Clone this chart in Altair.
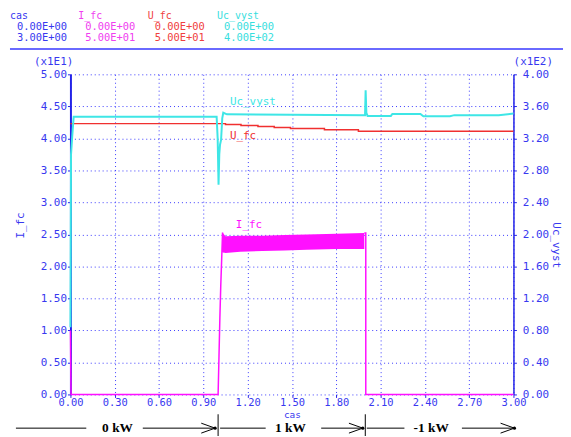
import altair as alt
import pandas as pd

# ---------------- data ----------------
x_ticks = [0.0, 0.3, 0.6, 0.9, 1.2, 1.5, 1.8, 2.1, 2.4, 2.7, 3.0]
left_ticks = [0, 5, 10, 15, 20, 25, 30, 35, 40, 45, 50]
right_ticks = [0, 40, 80, 120, 160, 200, 240, 280, 320, 360, 400]

# U_fc (left axis, stepped)
ufc_t = [0.0, 1.05, 1.155, 1.27, 1.38, 1.49, 1.72, 1.95, 3.0]
ufc_v = [42.3, 42.15, 42.0, 41.85, 41.7, 41.55, 41.35, 41.1, 41.1]

# Uc_vyst (right axis)
uc_t = [0.0, 0.004, 0.012, 0.022, 0.99, 0.997, 1.003, 1.008, 1.013, 1.02, 1.028, 1.035, 1.06,
        1.995, 1.999, 2.004, 2.012, 2.17, 2.18, 2.37, 2.39, 2.57, 2.6, 2.9, 3.0]
uc_v = [84, 300, 322, 347, 347, 320, 262, 300, 312, 318, 345, 352, 350,
        349, 380, 352, 348, 348, 350.5, 350.5, 347.6, 347.6, 349, 349, 351]

# I_fc edges (left axis)
ifc_seg = ["a", "a", "a", "a", "a", "a", "a", "a", "a", "b", "b", "b", "b"]
ifc_t = [0.0, 0.004, 1.0, 1.006, 1.012, 1.018, 1.024, 1.03, 1.035, 1.99, 2.0, 2.0, 3.0]
ifc_v = [10, 0, 0, 6, 12, 17, 21, 25.3, 22.2, 25.2, 25.2, 0, 0]

# I_fc ripple band
band_t = [1.03, 1.05, 1.15, 1.3, 1.45, 1.6, 1.8, 1.99]
band_hi = [25.3, 24.7, 24.8, 24.8, 24.9, 25.0, 25.1, 25.2]
band_lo = [22.2, 22.1, 22.3, 22.4, 22.5, 22.6, 22.7, 22.7]

head_names = ["cas", "I_fc", "U_fc", "Uc_vyst"]
head_min = ["0.00E+00", "0.00E+00", "0.00E+00", "0.00E+00"]
head_max = ["3.00E+00", "5.00E+01", "5.00E+01", "4.00E+02"]

phase_labels = ["0 kW", "1 kW", "-1 kW"]

# ---------------- styling ----------------
W, H = 447, 323
FONT = "DejaVu Sans Mono"
BLUE = "#3838f0"
AXIS = "#2323e8"
GRID = "#3a3aff"
CYAN = "#3ee6e6"
MAG = "#ff10ff"
RED = "#f03030"
head_colors = [BLUE, "#f040f0", "#f04040", "#38dede"]
head_x = [10, 79, 149, 219]
ox, oy = 71, 73  # plot origin on page

x_axis = alt.Axis(values=x_ticks, format=".2f", grid=True, gridDash=[1, 3], gridColor=GRID,
                  gridWidth=1, domain=False, ticks=True, tickSize=3, tickColor=AXIS,
                  labelPadding=0, labelFlush=False, labelOverlap=False,
                  labelColor=BLUE, labelFont=FONT, labelFontSize=10.5,
                  title="cas", titleColor=BLUE, titleFont=FONT, titleFontSize=9.5,
                  titleFontWeight="normal", titleY=23, titleBaseline="alphabetic")
X = alt.X("t:Q", scale=alt.Scale(domain=[0, 3], nice=False, zero=False), axis=x_axis)

left_axis = alt.Axis(values=left_ticks, labelExpr="format(datum.value/10, '.2f')",
                     grid=True, gridDash=[1, 3], gridColor=GRID, gridWidth=1,
                     domain=True, domainColor=AXIS, domainWidth=2,
                     ticks=True, tickSize=3, tickColor=AXIS, labelPadding=1,
                     labelColor=BLUE, labelFont=FONT, labelFontSize=11,
                     title="I_fc", titleColor=BLUE, titleFont=FONT, titleFontSize=11,
                     titleFontWeight="normal", titleX=-50, titleY=152, titleAngle=-90,
                     titleAlign="center", titleBaseline="middle")
YL = lambda f: alt.Y(f, scale=alt.Scale(domain=[0, 50], nice=False), axis=left_axis)

right_axis = alt.Axis(values=right_ticks, labelExpr="format(datum.value/100, '.2f')",
                      orient="right", grid=False, domain=True, domainColor=AXIS, domainWidth=1.5,
                      ticks=True, tickSize=3, tickColor=AXIS, labelPadding=6,
                      labelColor=BLUE, labelFont=FONT, labelFontSize=11,
                      title="Uc_vyst", titleColor=BLUE, titleFont=FONT, titleFontSize=11,
                      titleFontWeight="normal", titleX=42, titleY=172, titleAngle=90,
                      titleAlign="center", titleBaseline="middle")

ufc_df = pd.DataFrame({"t": ufc_t, "v": ufc_v})
uc_df = pd.DataFrame({"t": uc_t, "v": uc_v})
ifc_df = pd.DataFrame({"t": ifc_t, "v": ifc_v, "seg": ifc_seg, "o": list(range(len(ifc_t)))})
band_df = pd.DataFrame({"t": band_t, "hi": band_hi, "lo": band_lo})

ufc_line = alt.Chart(ufc_df).mark_line(color=RED, strokeWidth=1.5, interpolate="step-after").encode(
    x=X, y=YL("v:Q"))
band = alt.Chart(band_df).mark_area(color=MAG, opacity=1).encode(
    x=X, y=YL("hi:Q"), y2="lo:Q")
ifc_line = alt.Chart(ifc_df).mark_line(color=MAG, strokeWidth=1.5).encode(
    x=X, y=YL("v:Q"), detail="seg:N", order="o:Q")

lab_df = pd.DataFrame({"t": [1.08, 1.08, 1.12], "v": [45.6, 40.4, 26.4],
                       "name": ["Uc_vyst", "U_fc", "I_fc"], "c": [CYAN, RED, MAG]})
in_labels = alt.Chart(lab_df).mark_text(align="left", baseline="middle", font=FONT, fontSize=11).encode(
    x=X, y=YL("v:Q"), text="name:N", color=alt.Color("c:N", scale=None))

left = alt.layer(ufc_line, band, ifc_line, in_labels)

right = alt.Chart(uc_df).mark_line(color=CYAN, strokeWidth=2).encode(
    x=X, y=alt.Y("v:Q", scale=alt.Scale(domain=[0, 400], nice=False), axis=right_axis))

one = alt.Data(values=[{"k": 1}])


def txt(s, px, py, color, size=11, align="left", font=FONT, weight="normal"):
    return alt.Chart(one).mark_text(text=s, align=align, baseline="middle", font=font,
                                    fontSize=size, color=color, fontWeight=weight).encode(
        x=alt.value(px - ox), y=alt.value(py - oy))


def seg(x1, y1, x2, y2, color="black", w=1):
    return alt.Chart(one).mark_rule(color=color, strokeWidth=w).encode(
        x=alt.value(x1 - ox), x2=alt.value(x2 - ox), y=alt.value(y1 - oy), y2=alt.value(y2 - oy))


deco = []
for i in range(4):
    deco.append(txt(head_names[i], head_x[i], 14, head_colors[i], size=10))
    deco.append(txt(head_min[i], head_x[i] + 7, 25, head_colors[i], size=10.5))
    deco.append(txt(head_max[i], head_x[i] + 7, 36, head_colors[i], size=10.5))
deco.append(seg(10, 47.5, 575, 47.5, "#6a6aff", 2))
deco.append(txt("(x1E1)", 54, 61, BLUE, align="center"))
deco.append(txt("(x1E2)", 538, 61, BLUE, align="center"))

# bottom phase arrows
AY = 430
arrows = [(16, 87, 102, 135, 144, 217), (222, 268, 275, 311, 324, 366), (370, 408, 413, 457, 466, 519)]
for (a0, a1, t0, t1, b0, b1), lab in zip(arrows, phase_labels):
    deco.append(seg(a0, AY, a1, AY))
    deco.append(seg(b0, AY, b1, AY))
    deco.append(seg(b1 - 14, AY - 5, b1, AY))
    deco.append(seg(b1 - 14, AY + 5, b1, AY))
    deco.append(txt(lab, (t0 + t1) / 2, AY, "black", size=13.5, align="center",
                    font="Liberation Serif", weight="bold"))
    deco.append(alt.Chart(one).mark_point(filled=True, size=10, color="black", opacity=1).encode(
        x=alt.value(b1 - ox), y=alt.value(AY - oy)))
for sx in [220, 368.5]:
    deco.append(seg(sx, 416, sx, 440))

chart = alt.layer(left, right, *deco).resolve_scale(y="independent").properties(
    width=W, height=H,
    autosize=alt.AutoSizeParams(type="none"),
    padding={"left": ox - 8, "top": oy - 8, "right": 50, "bottom": 40},
    background="white",
).configure_view(stroke=None)

chart.save("out.html", embed_options={"renderer": "svg", "actions": False})
